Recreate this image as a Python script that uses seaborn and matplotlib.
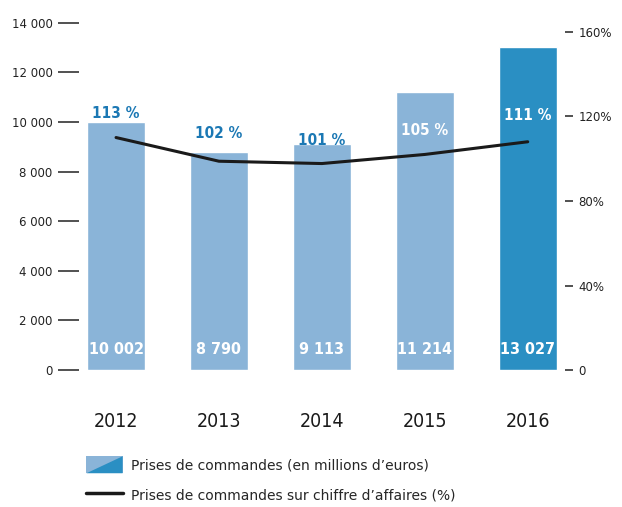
import matplotlib
matplotlib.use("Agg")
import matplotlib.pyplot as plt
from matplotlib.legend_handler import HandlerBase
from matplotlib.patches import Polygon
from matplotlib.lines import Line2D
import pandas as pd
import seaborn as sns

# data
years = ["2012", "2013", "2014", "2015", "2016"]
orders = [10002, 8790, 9113, 11214, 13027]
order_labels = ["10 002", "8 790", "9 113", "11 214", "13 027"]
ratio_line = [110, 98.8, 97.7, 102, 108]          # line position
ratio_labels = ["113 %", "102 %", "101 %", "105 %", "111 %"]
left_ticks = [0, 2000, 4000, 6000, 8000, 10000, 12000, 14000]
left_ticklabels = ["0", "2 000", "4 000", "6 000", "8 000", "10 000", "12 000", "14 000"]
right_ticks = [0, 40, 80, 120, 160]
right_ticklabels = ["0", "40%", "80%", "120%", "160%"]

light = "#8ab4d8"
dark = "#2a8fc3"
label_blue = "#1b78b4"
bar_colors = [light, light, light, light, dark]

sns.set_style("white")
plt.rcParams["font.family"] = ["DejaVu Sans"]

df = pd.DataFrame({"year": years, "orders": orders, "ratio": ratio_line})

fig = plt.figure(figsize=(6.22, 5.07), dpi=100)
ax = fig.add_axes([0.127, 0.270, 0.781, 0.685])

sns.barplot(data=df, x="year", y="orders", hue="year", palette=bar_colors,
            width=0.56, saturation=1, legend=False, ax=ax)
ax.set_xlim(-0.36, 4.36)
ax.set_ylim(0, 14000)
ax.set_yticks(left_ticks)
ax.set_yticklabels(left_ticklabels, fontsize=8.5, color="#222222")
ax.tick_params(axis="y", length=15, width=1.2, color="#333333", pad=4, direction="out")
ax.tick_params(axis="x", length=0, pad=30)
for lab in ax.get_xticklabels():
    lab.set_fontsize(14)
    lab.set_fontstretch("condensed")
    lab.set_color("#1a1a1a")
ax.set_xlabel("")
ax.set_ylabel("")
for s in ax.spines.values():
    s.set_visible(False)

# value labels inside bars
for i, txt in enumerate(order_labels):
    ax.text(i, 850, txt, ha="center", va="center", color="white",
            fontsize=11.5, fontweight="bold", fontstretch="condensed")

ax2 = ax.twinx()
sns.lineplot(data=df, x="year", y="ratio", color="#1a1a1a", linewidth=2.2, ax=ax2)
ax2.set_ylim(0, 160 * (370 - 23) / (370 - 32))
ax2.set_yticks(right_ticks)
ax2.set_yticklabels(right_ticklabels, fontsize=8.5, color="#222222")
ax2.tick_params(axis="y", length=6, width=1.2, color="#333333", pad=4)
ax2.set_ylabel("")
for s in ax2.spines.values():
    s.set_visible(False)

# percentage labels
pct_pos = [10360, 9550, 9270, 9640, 10280]
for i, txt in enumerate(ratio_labels):
    col = label_blue if i < 3 else "white"
    ax.text(i, pct_pos[i], txt, ha="center", va="center", color=col,
            fontsize=11, fontweight="bold", fontstretch="condensed", zorder=5)


class SplitHandler(HandlerBase):
    # light box with a dark lower-right triangle
    def create_artists(self, legend, orig_handle, xdescent, ydescent,
                       width, height, fontsize, trans):
        x0, y0 = -xdescent, -ydescent
        box = Polygon([[x0, y0], [x0, y0 + height], [x0 + width, y0 + height], [x0 + width, y0]],
                      closed=True, facecolor=light, edgecolor="none", transform=trans)
        lo = Polygon([[x0, y0], [x0 + width, y0 + height], [x0 + width, y0]],
                     closed=True, facecolor=dark, edgecolor="none", transform=trans)
        return [box, lo]


bar_handle = Polygon([[0, 0]])
line_handle = Line2D([], [], color="#1a1a1a", linewidth=2.5)
fig.legend([bar_handle, line_handle],
           ["Prises de commandes (en millions d’euros)",
            "Prises de commandes sur chiffre d’affaires (%)"],
           handler_map={Polygon: SplitHandler()},
           loc="upper left", bbox_to_anchor=(0.139, 0.100), frameon=False,
           fontsize=10, handlelength=2.6, handleheight=1.5, handletextpad=0.6,
           labelspacing=0.95, borderpad=0, borderaxespad=0)

fig.savefig("out.png", dpi=100)
